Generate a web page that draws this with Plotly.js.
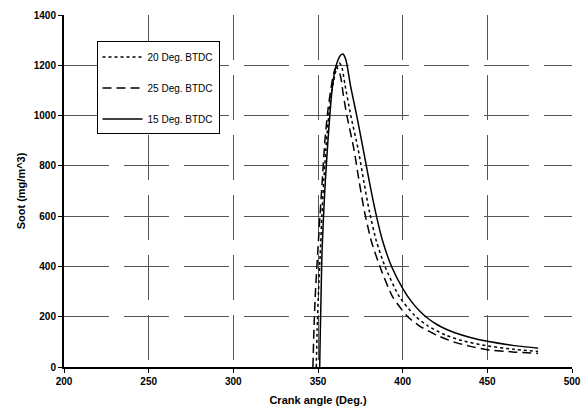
<!DOCTYPE html>
<html>
<head>
<meta charset="utf-8">
<script src="https://cdn.plot.ly/plotly-3.0.1.min.js"></script>
<style>html,body{margin:0;padding:0;background:#fff;}#chart{width:582px;height:412px;}</style>
</head>
<body>
<div id="chart"></div>
<script>
// 20 Deg. BTDC (dotted)
const angle20 = [349, 349.5, 350.3, 351.3, 352.3, 353.5, 355, 357, 359, 361, 362.5, 364, 366, 369.3, 373.8, 377, 380.3, 384.5, 389.6, 398, 407, 415, 425, 435, 450, 465, 480];
const soot20  = [0, 150, 300, 450, 600, 750, 900, 1040, 1130, 1190, 1210, 1195, 1120, 1002, 863, 740, 620, 500, 399, 280, 205, 163, 128, 105, 84, 71, 62];
// 25 Deg. BTDC (dashed)
const angle25 = [347, 347.6, 348.5, 349.8, 351.2, 352.6, 354.1, 356, 357.7, 359, 360.5, 362, 363.5, 365, 367, 371.3, 374, 377.4, 381.5, 386.6, 394, 403, 410, 420, 430, 440, 450, 465, 480];
const soot25  = [0, 150, 300, 450, 605, 750, 903, 1030, 1110, 1160, 1190, 1185, 1150, 1080, 1002, 863, 750, 620, 500, 399, 280, 200, 163, 127, 100, 82, 69, 60, 54];
// 15 Deg. BTDC (solid)
const angle15 = [351, 351.3, 351.7, 352.4, 354, 355.9, 358.3, 360, 361.8, 363.3, 364.7, 366.5, 369.3, 372.8, 376.8, 380, 383.7, 388, 393.5, 400, 405, 410, 415, 420, 425, 430, 440, 450, 465, 480];
const soot15  = [0, 120, 250, 465, 700, 903, 1102, 1180, 1221, 1240, 1245, 1221, 1115, 1002, 863, 748, 625, 505, 399, 313, 262, 223, 193, 170, 152, 138, 117, 102, 86, 75];

const seriesNames = ['20 Deg. BTDC', '25 Deg. BTDC', '15 Deg. BTDC'];
const xTicks = [200, 250, 300, 350, 400, 450, 500];
const yTicks = [0, 200, 400, 600, 800, 1000, 1200, 1400];

const fontFam = 'Liberation Sans, Arial, Helvetica, sans-serif';

const traces = [
  {x: angle20, y: soot20, name: seriesNames[0], legendgroup: 'a', mode: 'lines',
   line: {color: '#000', width: 1.5, dash: '3px,3px', shape: 'spline', smoothing: 0.6}},
  {x: angle25, y: soot25, name: seriesNames[1], legendgroup: 'b', mode: 'lines',
   line: {color: '#000', width: 1.5, dash: '9px,5px', shape: 'spline', smoothing: 0.6}},
  {x: angle15, y: soot15, name: seriesNames[2], legendgroup: 'c', mode: 'lines',
   line: {color: '#000', width: 1.5, shape: 'spline', smoothing: 0.6}}
];

const layout = {
  width: 582, height: 412,
  margin: {l: 64, r: 10, t: 15, b: 45},
  paper_bgcolor: '#fff', plot_bgcolor: '#fff',
  font: {family: fontFam, color: '#000', size: 10},
  showlegend: true,
  legend: {
    x: 0.064, y: 0.925, xanchor: 'left', yanchor: 'top',
    bgcolor: '#fff', bordercolor: '#000', borderwidth: 1,
    font: {family: fontFam, size: 10, color: '#000'},
    tracegroupgap: 12, traceorder: 'grouped', itemwidth: 40
  },
  xaxis: {
    range: [200, 500], tickvals: xTicks, ticktext: xTicks.map(String),
    showline: true, linecolor: '#000', linewidth: 2,
    ticks: 'outside', ticklen: 4, tickcolor: '#000', tickwidth: 1,
    showgrid: true, gridcolor: '#555', gridwidth: 1, griddash: '45px,15px',
    zeroline: false,
    tickfont: {family: fontFam, size: 10, weight: 'bold'},
    title: {text: 'Crank angle (Deg.)', font: {family: fontFam, size: 11, weight: 'bold'}, standoff: 10}
  },
  yaxis: {
    range: [0, 1400], tickvals: yTicks, ticktext: yTicks.map(String),
    showline: true, linecolor: '#000', linewidth: 2,
    ticks: 'outside', ticklen: 4, tickcolor: '#000', tickwidth: 1,
    showgrid: true, gridcolor: '#555', gridwidth: 1, griddash: '45px,15px',
    zeroline: false,
    tickfont: {family: fontFam, size: 10, weight: 'bold'},
    title: {text: 'Soot (mg/m^3)', font: {family: fontFam, size: 11, weight: 'bold'}, standoff: 6}
  }
};

Plotly.newPlot('chart', traces, layout, {displayModeBar: false, staticPlot: true});
</script>
</body>
</html>
